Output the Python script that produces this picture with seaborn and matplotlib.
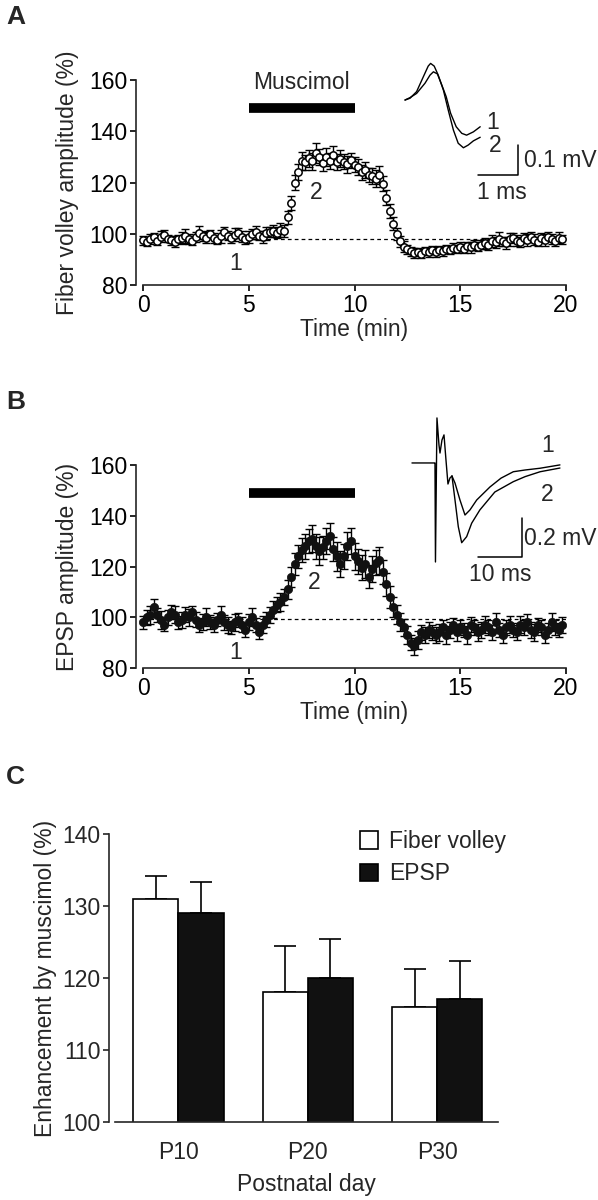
import numpy as np
import pandas as pd
import matplotlib
matplotlib.use("Agg")
import matplotlib.pyplot as plt
import seaborn as sns

sns.set_theme(style="ticks")
plt.rcParams['font.family'] = ['Liberation Sans', 'DejaVu Sans']
FS = 16.5
plt.rcParams['font.size'] = FS
plt.rcParams['axes.linewidth'] = 1.2

# ---------------- data ----------------
time_min = np.arange(120) / 6.0  # one sweep every 10 s

fv_mean = [
    97.5, 96.8, 97.9, 98.6, 97.2, 98.9, 99.6, 98.1, 97.4, 96.9, 97.8, 98.3,
    99.2, 98.0, 97.3, 98.7, 100.4, 99.1, 98.5, 99.8, 98.2, 97.6, 99.0, 100.6,
    99.3, 98.4, 99.7, 100.2, 98.9, 97.8, 98.6, 99.9, 100.5, 99.2, 98.7, 100.1,
    100.8, 101.2, 100.4, 101.5, 101.0, 106.5, 112.0, 120.0, 124.0, 128.5, 127.9, 129.4,
    128.2, 131.5, 130.0, 127.6, 129.8, 128.4, 130.8, 127.9, 129.3, 128.1, 127.2, 128.6,
    127.0, 126.0, 124.0, 125.0, 123.0, 122.5, 121.5, 122.8, 119.5, 114.0, 109.0, 104.0,
    100.0, 97.0, 95.0, 94.0, 93.2, 92.5, 93.0, 92.2, 93.4, 92.8, 93.6, 92.9,
    93.8, 93.2, 94.1, 93.5, 94.6, 93.9, 95.0, 94.2, 95.3, 94.7, 95.6, 95.0,
    95.8, 96.3, 95.5, 97.2, 96.6, 98.0, 97.1, 96.4, 97.8, 98.4, 97.3, 96.8,
    98.2, 97.5, 98.8, 97.7, 96.9, 98.3, 97.6, 98.9, 97.9, 97.1, 98.4, 97.8,
]
fv_sem = [
    1.8, 1.5, 2.0, 1.7, 1.6, 2.2, 1.9, 1.5, 1.8, 2.1, 1.6, 2.4,
    2.8, 1.9, 1.7, 2.0, 2.6, 1.8, 2.3, 1.6, 2.0, 1.7, 2.5, 2.2,
    1.8, 2.0, 2.4, 1.9, 2.1, 1.7, 2.3, 2.0, 2.6, 1.8, 2.2, 2.5,
    2.0, 2.4, 2.2, 2.6, 2.3, 2.5, 2.8, 3.0, 3.2, 3.5, 3.0, 3.3,
    3.4, 3.8, 3.2, 3.0, 3.5, 3.1, 3.6, 3.2, 3.4, 3.0, 3.3, 3.1,
    3.0, 3.2, 2.9, 3.1, 2.8, 3.0, 3.2, 3.5, 3.0, 2.9, 2.7, 2.5,
    2.4, 2.2, 2.0, 1.8, 1.7, 1.9, 1.6, 1.8, 1.5, 1.7, 1.6, 1.8,
    1.5, 1.7, 1.6, 1.4, 1.8, 1.6, 1.9, 1.7, 1.5, 2.2, 1.8, 1.6,
    1.9, 2.1, 1.7, 2.3, 2.0, 2.6, 1.8, 2.2, 2.4, 1.9, 2.1, 1.8,
    2.0, 2.3, 1.9, 2.2, 1.8, 2.1, 2.4, 1.9, 2.0, 1.7, 2.2, 1.9,
]
epsp_mean = [
    98, 100, 101, 104, 101, 99, 97, 100, 102, 101, 98, 99,
    101, 100, 102, 99, 97, 98, 100, 98, 97, 99, 101, 98,
    97, 96, 98, 99, 97, 95, 98, 100, 97, 94, 97, 99,
    101, 103, 105, 106, 108, 111, 116, 121, 124, 126.5, 128, 130,
    131, 128, 126, 127.5, 130, 132, 127, 124, 121, 124, 128, 130,
    124, 122, 119.5, 121, 116, 119, 121.5, 122.5, 118, 113, 108, 104,
    101, 98, 96, 93, 90, 88.5, 91, 94, 93, 95, 94, 93,
    94, 96, 93, 95, 97, 94, 96, 95, 93, 97, 96, 94,
    95, 97, 96, 94, 98, 95, 93, 96, 97, 95, 94, 97,
    96, 98, 95, 94, 97, 96, 93, 95, 98, 96, 95, 97,
]
epsp_sem = [
    2.5, 3.0, 3.5, 3.2, 2.8, 3.6, 2.4, 3.0, 2.7, 3.3, 2.5, 3.1,
    2.9, 3.4, 2.6, 3.0, 2.8, 3.2, 3.5, 2.7, 3.0, 2.6, 3.3, 2.9,
    3.1, 2.5, 3.4, 2.8, 3.0, 2.6, 3.2, 3.5, 2.9, 2.7, 3.3, 3.0,
    3.2, 3.4, 3.0, 3.6, 3.3, 3.8, 4.0, 4.2, 4.5, 4.8, 5.0, 4.6,
    5.2, 4.9, 5.5, 4.7, 5.0, 5.3, 4.8, 5.6, 5.1, 4.9, 5.4, 5.0,
    5.2, 4.8, 5.0, 5.5, 4.6, 5.1, 4.9, 5.3, 4.7, 4.5, 4.2, 4.0,
    3.8, 3.5, 3.2, 3.4, 3.0, 3.2, 3.5, 2.9, 3.1, 3.3, 2.8, 3.0,
    3.2, 2.9, 3.4, 3.0, 2.7, 3.3, 3.1, 2.8, 3.5, 3.0, 2.9, 3.2,
    3.0, 3.4, 2.8, 3.1, 3.5, 2.9, 3.2, 3.0, 3.3, 2.7, 3.1, 3.4,
    2.9, 3.2, 3.0, 3.5, 2.8, 3.1, 3.3, 2.9, 3.6, 3.0, 2.8, 3.2,
]
fv_baseline = 98
epsp_baseline = 99.5
drug_on, drug_off = 5, 10
drug_label = "Muscimol"

# inset traces (ms, mV relative to baseline)
fvtr_t1 = [0, 0.125, 0.29, 0.5, 0.625, 0.71, 0.81, 0.92, 1.03, 1.14, 1.28, 1.42, 1.54, 1.71, 1.88]
fvtr_v1 = [0, 0.008, 0.022, 0.056, 0.083, 0.094, 0.087, 0.05, 0.011, -0.044, -0.089, -0.111, -0.117, -0.106, -0.089]
fvtr_t2 = [0, 0.125, 0.29, 0.46, 0.58, 0.64, 0.73, 0.83, 0.96, 1.08, 1.21, 1.33, 1.46, 1.58, 1.71, 1.88]
fvtr_v2 = [0, 0.006, 0.028, 0.078, 0.113, 0.122, 0.113, 0.083, 0.033, -0.033, -0.1, -0.144, -0.159, -0.15, -0.136, -0.124]

ep_art_t = [-5.23, -0.2, 0, 0.11, 0.45, 0.91, 1.14, 1.59, 2.05, 2.5, 2.95, 3.41, 3.86]
ep_art_v = [0, 0, 0, -0.508, 0.231, 0.092, 0.051, 0.118, 0.144, 0.015, -0.108, -0.077, -0.067]
eptr_t1 = [3.86, 4.55, 5.68, 6.82, 7.95, 9.48, 12.5, 15.0, 17.8, 20.5, 23.9, 28.4]
eptr_v1 = [-0.067, -0.103, -0.19, -0.267, -0.241, -0.19, -0.123, -0.078, -0.045, -0.036, -0.027, -0.01]
eptr_t2 = [3.86, 4.55, 5.3, 6.07, 7.2, 8.34, 10.2, 13.6, 17.8, 20.5, 23.9, 28.4]
eptr_v2 = [-0.067, -0.19, -0.327, -0.409, -0.378, -0.309, -0.241, -0.149, -0.096, -0.07, -0.045, -0.026]

# panel C
days = ["P10", "P20", "P30"]
fv_enh = [131.0, 118.1, 116.0]
fv_enh_err = [3.2, 6.3, 5.3]
epsp_enh = [129.0, 120.0, 117.1]
epsp_enh_err = [4.4, 5.4, 5.2]

# ---------------- figure ----------------
W, H = 598, 1200
fig = plt.figure(figsize=(W / 100, H / 100), dpi=100)


def rect(x0, y0, x1, y1):
    return [x0 / W, 1 - y1 / H, (x1 - x0) / W, (y1 - y0) / H]


def style_time_axis(ax, ylabel, bl):
    ax.set_xlim(0, 20)
    ax.set_ylim(80, 160)
    ax.set_xticks([0, 5, 10, 15, 20])
    ax.set_yticks([80, 100, 120, 140, 160])
    ax.spines['top'].set_visible(False)
    ax.spines['right'].set_visible(False)
    ax.spines['left'].set_position(('outward', 5))
    ax.tick_params(direction='out', length=4.5, width=1.2, labelsize=FS, pad=2, colors='black')
    ax.set_xlabel("Time (min)", fontsize=FS, labelpad=1)
    ax.set_ylabel(ylabel, fontsize=FS, labelpad=7)
    ax.axhline(bl, color='black', lw=0.9, ls=(0, (3, 2.5)), zorder=1)
    ax.patch.set_alpha(0)


# ---- Panel A ----
axA = fig.add_axes(rect(143, 80, 566, 285))
style_time_axis(axA, "Fiber volley amplitude (%)", fv_baseline)
axA.errorbar(time_min, fv_mean, yerr=fv_sem, fmt='none', ecolor='black',
             elinewidth=1.0, capsize=3, capthick=1.0, zorder=2, clip_on=False)
sns.scatterplot(x=time_min, y=fv_mean, ax=axA, s=28, color='white',
                edgecolor='black', linewidth=1.1, zorder=3, clip_on=False)
axA.plot([drug_on, drug_off], [149, 149], color='black', lw=7, solid_capstyle='butt', clip_on=False)
axA.text((drug_on + drug_off) / 2, 159, drug_label, ha='center', va='center', fontsize=FS)
axA.text(4.4, 88.5, "1", ha='center', va='center', fontsize=FS)
axA.text(8.2, 116, "2", ha='center', va='center', fontsize=FS)

# ---- Panel B ----
axB = fig.add_axes(rect(143, 465, 566, 668))
style_time_axis(axB, "EPSP amplitude (%)", epsp_baseline)
axB.errorbar(time_min, epsp_mean, yerr=epsp_sem, fmt='none', ecolor='black',
             elinewidth=1.0, capsize=3, capthick=1.0, zorder=2, clip_on=False)
sns.scatterplot(x=time_min, y=epsp_mean, ax=axB, s=36, color='#111111',
                edgecolor='#111111', linewidth=0.5, zorder=3, clip_on=False)
axB.plot([drug_on, drug_off], [149, 149], color='black', lw=7, solid_capstyle='butt', clip_on=False)
axB.text(4.4, 86, "1", ha='center', va='center', fontsize=FS)
axB.text(8.1, 113.8, "2", ha='center', va='center', fontsize=FS)

# ---- Inset A ----
inA = fig.add_axes(rect(400, 55, 598, 200))
inA.set_xlim(-0.125, 4.825)
inA.set_ylim(-0.333, 0.15)
inA.axis('off')
inA.plot(fvtr_t1, fvtr_v1, color='black', lw=1.0)
inA.plot(fvtr_t2, fvtr_v2, color='black', lw=1.0)
inA.plot([1.825, 2.825, 2.825], [-0.25, -0.25, -0.15], color='black', lw=1.1)
inA.text(2.97, -0.2, "0.1 mV", ha='left', va='center', fontsize=FS)
inA.text(1.8, -0.27, "1 ms", ha='left', va='top', fontsize=FS)
inA.text(2.2, -0.075, "1", ha='center', va='center', fontsize=FS)
inA.text(2.25, -0.15, "2", ha='center', va='center', fontsize=FS)

# ---- Inset B ----
inB = fig.add_axes(rect(400, 400, 598, 600))
inB.set_xlim(-7.95, 37.05)
inB.set_ylim(-0.703, 0.323)
inB.axis('off')
inB.plot(ep_art_t, ep_art_v, color='black', lw=1.0)
inB.plot(eptr_t1, eptr_v1, color='black', lw=1.0)
inB.plot(eptr_t2, eptr_v2, color='black', lw=1.0)
inB.plot([9.77, 19.77, 19.77], [-0.482, -0.482, -0.282], color='black', lw=1.1)
inB.text(20.3, -0.385, "0.2 mV", ha='left', va='center', fontsize=FS)
inB.text(14.8, -0.515, "10 ms", ha='center', va='top', fontsize=FS)
inB.text(25.5, 0.092, "1", ha='center', va='center', fontsize=FS)
inB.text(25.5, -0.164, "2", ha='center', va='center', fontsize=FS)

# ---- Panel C ----
axC = fig.add_axes(rect(115, 834, 498, 1122))
dfC = pd.DataFrame({
    "day": days * 2,
    "measure": ["Fiber volley"] * 3 + ["EPSP"] * 3,
    "value": fv_enh + epsp_enh,
    "err": fv_enh_err + epsp_enh_err,
})
sns.barplot(data=dfC, x="day", y="value", hue="measure",
            palette={"Fiber volley": "white", "EPSP": "#111111"},
            edgecolor="black", linewidth=1.2, width=0.7, errorbar=None,
            ax=axC, zorder=2)
errs = [fv_enh_err, epsp_enh_err]
for cont, err in zip(axC.containers, errs):
    for bar, e in zip(cont, err):
        xc = bar.get_x() + bar.get_width() / 2
        axC.errorbar([xc], [bar.get_height()], yerr=[[0], [e]], fmt='none',
                     ecolor='black', elinewidth=1.2, capsize=8, capthick=1.2, zorder=1)
axC.set_ylim(100, 140)
axC.set_xlim(-0.49, 2.47)
axC.set_yticks([100, 110, 120, 130, 140])
axC.spines['top'].set_visible(False)
axC.spines['right'].set_visible(False)
axC.spines['left'].set_position(('outward', 4))
axC.tick_params(axis='y', direction='out', length=4.5, width=1.2, labelsize=FS, pad=2)
axC.tick_params(axis='x', length=0, labelsize=FS, pad=14)
axC.set_xlabel("Postnatal day", fontsize=FS, labelpad=6)
axC.set_ylabel("Enhancement by muscimol (%)", fontsize=FS, labelpad=4)
leg = axC.legend(loc='upper left', bbox_to_anchor=(0.585, 1.085), frameon=False,
                 fontsize=FS, handlelength=0.8, handleheight=0.8,
                 handletextpad=0.5, labelspacing=0.4)
for h in leg.legend_handles:
    h.set_edgecolor('black')
    h.set_linewidth(1.2)
axC.patch.set_alpha(0)

# panel letters
for lab, y in [("A", 17), ("B", 402), ("C", 777)]:
    fig.text(6 / W, 1 - y / H, lab, fontsize=19, fontweight='bold', ha='left', va='center')

fig.savefig("out.png", dpi=100)
